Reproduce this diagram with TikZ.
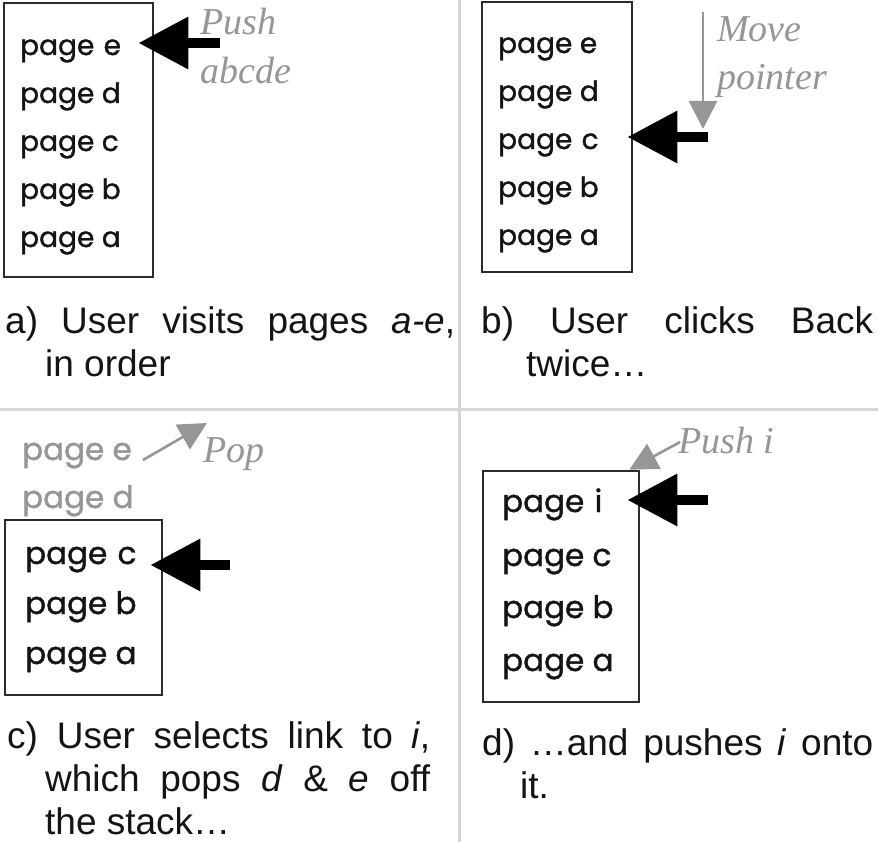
\documentclass[tikz,border=0pt]{standalone}
\usepackage{fontspec}
\setmainfont{Liberation Sans}
\newfontfamily\pagefont{Poppins}[FakeBold=1.2]
\newfontfamily\notefont{Liberation Serif}
\usetikzlibrary{arrows.meta}
\definecolor{divider}{HTML}{D6D6D6}
\definecolor{notegray}{HTML}{969696}
\definecolor{oldgray}{HTML}{969696}
\definecolor{boxline}{HTML}{2B2B2B}
\definecolor{inkblack}{HTML}{141414}
\begin{document}
\begin{tikzpicture}[x=1pt,y=-1pt,
  pagetxt/.style={anchor=base west, inner sep=0pt, text height=16pt, text depth=0pt,
    text=inkblack, font=\pagefont\fontsize{28}{28}\selectfont},
  bigpage/.style={pagetxt, font=\pagefont\fontsize{31}{31}\selectfont},
  stackbox/.style={draw=boxline, line width=2.6pt, inner sep=0pt},
  bigarrow/.style={line width=10pt, black, -{Triangle[length=50pt,width=50pt]}},
  notearrow/.style={line width=2.6pt, notegray, -{Triangle[length=28pt,width=28pt]}},
  note/.style={anchor=base west, inner sep=0pt, text=notegray,
    font=\notefont\itshape\fontsize{38}{38}\selectfont},
  caption/.style={anchor=base west, inner sep=0pt, align=justify, text=inkblack,
    font=\fontsize{37}{43}\selectfont}
]
\useasboundingbox (0,0) rectangle (878,842);
\fill[white] (0,0) rectangle (878,842);
% dividers
\draw[divider, line width=3pt] (459,0) -- (459,842);
\draw[divider, line width=3pt] (0,409) -- (878,409);

% ---------- panel a ----------
\node[stackbox, minimum width=149pt, minimum height=274pt] (boxA) at (78.5,140) {};
\node[pagetxt, text width=118pt] (ae) at (20,55) {page e};
\node[pagetxt] (ad) at (20,103) {page d};
\node[pagetxt] (ac) at (20,151) {page c};
\node[pagetxt] (ab) at (20,199) {page b};
\node[pagetxt] (aa) at (20,247) {page a};
\coordinate (tailA) at (220,43);
\draw[bigarrow] (tailA) -- ([yshift=4pt]ae.east);
\node[note] (pushA) at (200,35) {Push};
\node[note] (pushAb) at (200,84) {abcde};
\node[caption, text width=450pt] (capA) at (5,334)
  {\noindent\hangindent=40pt\hangafter=1 a) User visits pages \textit{a-e},\linebreak in order\par};

% ---------- panel b ----------
\node[stackbox, minimum width=150pt, minimum height=270pt] (boxB) at (557,137) {};
\node[pagetxt] (be) at (498,53) {page e};
\node[pagetxt] (bd) at (498,101) {page d};
\node[pagetxt, text width=129pt] (bc) at (498,149) {page c};
\node[pagetxt] (bb) at (498,197) {page b};
\node[pagetxt] (ba) at (498,245) {page a};
\coordinate (tailB) at (708,137);
\draw[bigarrow] (tailB) -- ([yshift=4pt]bc.east);
\coordinate (moveStart) at (703,12);
\coordinate (moveEnd) at (703,129);
\draw[notearrow] (moveStart) -- (moveEnd);
\node[note] (moveB) at (717,42) {Move};
\node[note] (moveBb) at (717,90) {pointer};
\node[caption, text width=392pt] (capB) at (481,334)
  {\noindent\hangindent=45pt\hangafter=1 b) User clicks Back\linebreak twice…\par};

% ---------- panel c ----------
\node[pagetxt, bigpage, text=oldgray] (ce) at (22,460) {page e};
\node[pagetxt, bigpage, text=oldgray] (cd) at (22,508) {page d};
\node[stackbox, minimum width=157pt, minimum height=175pt] (boxC) at (83.5,607.5) {};
\node[bigpage, text width=125pt] (cc) at (25,564) {page c};
\node[bigpage] (cb) at (25,614) {page b};
\node[bigpage] (ca) at (25,664) {page a};
\coordinate (tailC) at (230,565);
\draw[bigarrow] (tailC) -- ([yshift=-9pt]cc.east);
\coordinate (popStart) at (143,460);
\coordinate (popEnd) at (207,423);
\draw[notearrow] (popStart) -- (popEnd);
\node[note] (popC) at (203,462) {Pop};
\node[caption, text width=423pt] (capC) at (7,748)
  {\noindent\hangindent=38pt\hangafter=1 c) User selects link to \textit{i},\linebreak which pops \textit{d} \& \textit{e} off\linebreak the stack…\par};

% ---------- panel d ----------
\node[stackbox, minimum width=156pt, minimum height=231pt] (boxD) at (561,586.5) {};
\node[bigpage, text width=125pt] (di) at (502,512) {page i};
\node[bigpage] (dc) at (502,566) {page c};
\node[bigpage] (db) at (502,618) {page b};
\node[bigpage] (da) at (502,671) {page a};
\coordinate (tailD) at (708,500);
\draw[bigarrow] (tailD) -- ([yshift=4pt]di.east);
\node[note] (pushD) at (678,453) {Push \textit{i}};
\coordinate (pushStart) at (680,442);
\draw[notearrow] (pushStart) -- ([xshift=-11pt]boxD.north east);
\node[caption, text width=391pt] (capD) at (482,755)
  {\noindent\hangindent=38pt\hangafter=1 d) …and pushes \textit{i} onto\linebreak it.\par};
\end{tikzpicture}
\end{document}
